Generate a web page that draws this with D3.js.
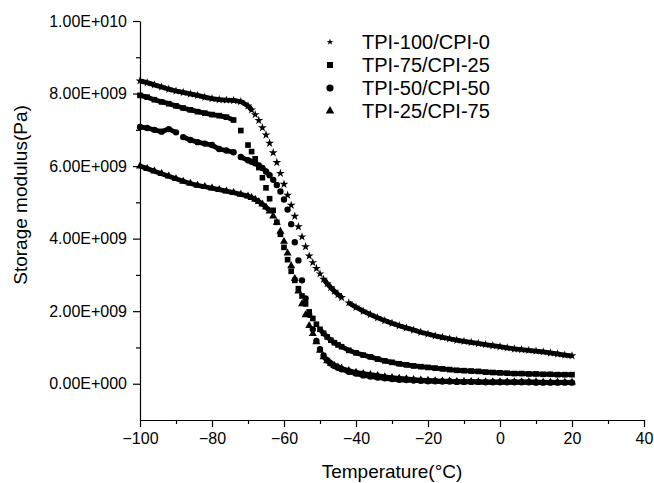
<!DOCTYPE html>
<html>
<head>
<meta charset="utf-8">
<script src="https://cdn.jsdelivr.net/npm/d3@7"></script>
<style>
  body { margin: 0; background: #fff; }
  text { font-family: 'Liberation Sans', Arial, sans-serif; fill: #000; }
</style>
</head>
<body>
<div id="chart"></div>
<script>
// temperatures (°C) shared by all four samples
const temps = [
  -100, -98, -96, -94, -92, -90, -88, -86, -84, -82, -80, -78, -76, -74, -72, -70,
  -69, -68, -67, -66, -65, -64, -63, -62, -61, -60, -59, -58, -57, -56, -55, -54, -53, -52, -51, -50, -49, -48, -47, -46, -45,
  -44, -42, -40, -38, -36, -34, -32, -30, -28, -26, -24, -22, -20, -18, -16, -14, -12, -10, -8, -6, -4, -2, 0, 2, 4, 6, 8, 10, 12, 14, 16, 18, 20
]

// storage modulus, in units of 1E+009 Pa
const tpi100 = [
  8.35, 8.3, 8.24, 8.18, 8.12, 8.07, 8.03, 7.99, 7.95, 7.9, 7.86, 7.83, 7.82, 7.81, 7.78, 7.66,
  7.55, 7.42, 7.26, 7.06, 6.86, 6.63, 6.37, 6.1, 5.8, 5.5, 5.2, 4.92, 4.62, 4.33, 4.05, 3.78, 3.52, 3.34, 3.18, 3.03, 2.88, 2.76, 2.65, 2.55, 2.46,
  2.38, 2.23, 2.11, 2.0, 1.91, 1.82, 1.74, 1.67, 1.6, 1.54, 1.48, 1.42, 1.37, 1.32, 1.28, 1.24, 1.2, 1.17, 1.14, 1.11, 1.08, 1.05, 1.02, 0.99, 0.96, 0.94, 0.92, 0.9, 0.88, 0.85, 0.82, 0.79, 0.77
]
const tpi75 = [
  7.95, 7.9, 7.83, 7.77, 7.72, 7.66, 7.6, 7.55, 7.5, 7.46, 7.42, 7.39, 7.35, 7.27, 6.98, 6.58,
  6.4, 6.2, 5.96, 5.68, 5.4, 5.1, 4.78, 4.45, 4.12, 3.76, 3.42, 3.1, 2.85, 2.62, 2.42, 2.2, 1.98, 1.8, 1.64, 1.5, 1.39, 1.29, 1.2, 1.13, 1.07,
  1.02, 0.92, 0.85, 0.79, 0.74, 0.68, 0.63, 0.59, 0.55, 0.52, 0.49, 0.47, 0.45, 0.43, 0.41, 0.39, 0.37, 0.36, 0.35, 0.34, 0.32, 0.31, 0.3, 0.29, 0.28, 0.28, 0.27, 0.27, 0.26, 0.26, 0.25, 0.25, 0.25
]
const tpi50 = [
  7.08, 7.05, 7.0, 6.95, 7.02, 6.93, 6.8, 6.72, 6.66, 6.62, 6.58, 6.47, 6.43, 6.38, 6.25, 6.16,
  6.12, 6.08, 6.02, 5.95, 5.85, 5.75, 5.62, 5.48, 5.3, 5.08, 4.8, 4.4, 3.9, 3.4, 2.85, 2.35, 1.9, 1.5, 1.18, 0.95, 0.78, 0.65, 0.56, 0.49, 0.44,
  0.4, 0.33, 0.28, 0.23, 0.2, 0.17, 0.15, 0.13, 0.11, 0.1, 0.09, 0.08, 0.07, 0.07, 0.06, 0.06, 0.05, 0.05, 0.05, 0.05, 0.04, 0.04, 0.04, 0.04, 0.04, 0.04, 0.04, 0.03, 0.03, 0.03, 0.03, 0.03, 0.03
]
const tpi25 = [
  6.0, 5.93, 5.86, 5.79, 5.72, 5.65, 5.58, 5.52, 5.47, 5.43, 5.39, 5.35, 5.31, 5.27, 5.22, 5.17,
  5.13, 5.08, 5.02, 4.95, 4.87, 4.76, 4.62, 4.45, 4.2, 3.92, 3.6, 3.25, 2.9, 2.55, 2.2, 1.9, 1.6, 1.38, 1.15, 0.92, 0.74, 0.63, 0.56, 0.5, 0.46,
  0.42, 0.36, 0.31, 0.28, 0.25, 0.22, 0.19, 0.17, 0.15, 0.13, 0.11, 0.1, 0.09, 0.08, 0.07, 0.07, 0.06, 0.06, 0.06, 0.05, 0.05, 0.05, 0.05, 0.05, 0.05, 0.05, 0.05, 0.05, 0.04, 0.04, 0.04, 0.04, 0.04
]

const seriesNames = ['TPI-100/CPI-0', 'TPI-75/CPI-25', 'TPI-50/CPI-50', 'TPI-25/CPI-75']

const xTicks = [-100, -80, -60, -40, -20, 0, 20, 40]
const yTicks = [0, 2, 4, 6, 8, 10]
const yTickLabels = ['0.00E+000', '2.00E+009', '4.00E+009', '6.00E+009', '8.00E+009', '1.00E+010']

const width = 654
const height = 483
const margin = { top: 21, left: 140, right: 10, bottom: 63 }

const svg = d3
  .select('#chart')
  .append('svg')
  .attr('width', width)
  .attr('height', height)

const x = d3.scaleLinear().domain([-100, 40]).range([margin.left, width - margin.right])
const y = d3.scaleLinear().domain([-1, 10]).range([height - margin.bottom, margin.top])

// minor ticks first, then the labelled axes on top
svg
  .append('g')
  .attr('transform', `translate(0,${height - margin.bottom})`)
  .call(d3.axisBottom(x).tickValues(d3.range(-90, 40, 20)).tickSize(4).tickFormat(''))
  .call(g => g.select('.domain').remove())

svg
  .append('g')
  .attr('transform', `translate(${margin.left},0)`)
  .call(d3.axisLeft(y).tickValues([1, 3, 5, 7, 9]).tickSize(4).tickFormat(''))
  .call(g => g.select('.domain').remove())

svg
  .append('g')
  .attr('transform', `translate(0,${height - margin.bottom})`)
  .call(d3.axisBottom(x).tickValues(xTicks).tickSize(7).tickSizeOuter(0).tickPadding(6))

svg
  .append('g')
  .attr('transform', `translate(${margin.left},0)`)
  .call(
    d3.axisLeft(y)
      .tickValues(yTicks)
      .tickFormat((d, i) => yTickLabels[i])
      .tickSize(7)
      .tickSizeOuter(0)
      .tickPadding(6)
  )

svg.selectAll('.domain, .tick line').attr('stroke', '#000').attr('stroke-width', 1.2)
svg.selectAll('.tick text').attr('font-size', 16).attr('font-family', "'Liberation Sans', Arial, sans-serif")

svg
  .append('text')
  .attr('x', (x(-100) + x(40)) / 2)
  .attr('y', 478)
  .attr('text-anchor', 'middle')
  .attr('font-size', 19)
  .text('Temperature(°C)')

svg
  .append('text')
  .attr('transform', 'translate(27,195) rotate(-90)')
  .attr('text-anchor', 'middle')
  .attr('font-size', 19)
  .text('Storage modulus(Pa)')

const symbols = [d3.symbolStar, d3.symbolSquare, d3.symbolCircle, d3.symbolTriangle]
const plotSizes = [24, 32, 32, 28]
const legendSizes = [14, 36, 40, 32]
const values = [tpi100, tpi75, tpi50, tpi25]

values.forEach((vals, k) => {
  const pts = temps.map((t, i) => [x(t), y(vals[i])])

  // join neighbouring markers where the curve is flat, so the dense band reads as solid
  const segs = d3.pairs(pts).filter(([a, b]) => Math.abs(a[1] - b[1]) < 4.5)
  svg
    .append('g')
    .selectAll('line')
    .data(segs)
    .enter()
    .append('line')
    .attr('x1', d => d[0][0])
    .attr('y1', d => d[0][1])
    .attr('x2', d => d[1][0])
    .attr('y2', d => d[1][1])
    .attr('stroke', '#000')
    .attr('stroke-width', 4.8)

  svg
    .append('g')
    .selectAll('path')
    .data(pts)
    .enter()
    .append('path')
    .attr('d', d3.symbol().type(symbols[k]).size(plotSizes[k]))
    .attr('transform', d => `translate(${d})`)
    .attr('fill', '#000')
})

const legend = svg.append('g')

seriesNames.forEach((name, k) => {
  const ly = 42 + k * 23
  legend
    .append('path')
    .attr('d', d3.symbol().type(symbols[k]).size(legendSizes[k]))
    .attr('transform', `translate(330,${ly})`)
    .attr('fill', '#000')
  legend
    .append('text')
    .attr('x', 362)
    .attr('y', ly)
    .attr('dy', '0.36em')
    .attr('font-size', 20)
    .text(name)
})
</script>
</body>
</html>
